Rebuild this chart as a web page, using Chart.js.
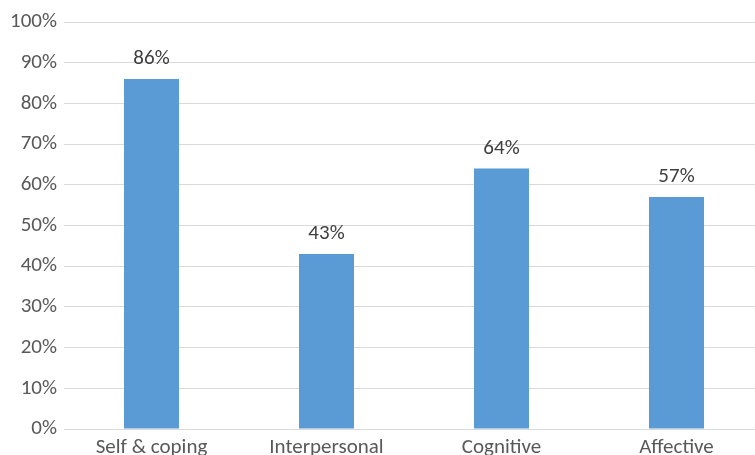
<!DOCTYPE html>
<html>
<head>
<meta charset="utf-8">
<script src="https://cdn.jsdelivr.net/npm/chart.js@4/dist/chart.umd.min.js"></script>
<style>
html,body{margin:0;padding:0;background:#fff;overflow:hidden;}
#wrap{width:755px;height:455px;overflow:hidden;position:relative;}
canvas{position:absolute;left:0;top:0;}
</style>
</head>
<body>
<div id="wrap"><canvas id="c" width="765" height="470"></canvas></div>
<script>
const categories = ["Self & coping", "Interpersonal", "Cognitive", "Affective"];
const values = [86, 43, 64, 57];
const tickValues = [0, 10, 20, 30, 40, 50, 60, 70, 80, 90, 100];

const FONT = "Carlito, 'Open Sans', sans-serif";

const valueLabels = {
  id: 'valueLabels',
  afterDatasetsDraw(chart) {
    const ctx = chart.ctx;
    const meta = chart.getDatasetMeta(0);
    ctx.save();
    ctx.font = "21px " + FONT;
    ctx.fillStyle = "#404040";
    ctx.textAlign = "center";
    ctx.textBaseline = "alphabetic";
    meta.data.forEach((bar, i) => {
      ctx.fillText(values[i] + "%", bar.x, bar.y - 15);
    });
    ctx.restore();
  }
};

new Chart(document.getElementById('c'), {
  type: 'bar',
  data: {
    labels: categories,
    datasets: [{
      data: values,
      backgroundColor: '#5b9bd5',
      borderWidth: 0,
      barPercentage: 55/175,
      categoryPercentage: 1
    }]
  },
  options: {
    responsive: false,
    animation: false,
    devicePixelRatio: 1,
    layout: { padding: { top: 22, right: 1, left: 0, bottom: 0 } },
    plugins: { legend: { display: false }, tooltip: { enabled: false } },
    scales: {
      x: {
        grid: { display: false, drawTicks: false },
        border: { display: false },
        ticks: { color: '#595959', font: { family: FONT, size: 21 }, padding: 6, maxRotation: 0, autoSkip: false },
        afterFit(axis) { axis.height = 41; }
      },
      y: {
        min: 0, max: 100,
        afterBuildTicks(axis) { axis.ticks = tickValues.map(v => ({ value: v })); },
        grid: { color: '#d9d9d9', lineWidth: 1, drawTicks: false },
        border: { display: false },
        ticks: { color: '#595959', font: { family: FONT, size: 21 }, padding: 7, callback: v => v + '%' },
        afterFit(axis) { axis.width = 64; }
      }
    }
  },
  plugins: [valueLabels]
});
</script>
</body>
</html>
